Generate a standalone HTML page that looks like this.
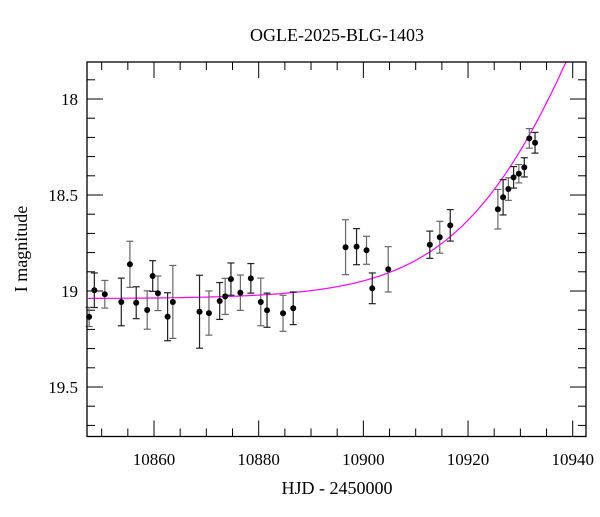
<!DOCTYPE html>
<html><head><meta charset="utf-8"><style>
html,body{margin:0;padding:0;background:#fff;}
svg text{font-family:"Liberation Serif",serif;fill:#000;}
</style></head><body>
<svg id="chart" width="600" height="512" xmlns="http://www.w3.org/2000/svg">
<text x="337" y="41" font-size="18" text-anchor="middle">OGLE-2025-BLG-1403</text>
<g id="grid"></g>
<g id="curve"></g>
<g id="points"></g>
<rect x="87" y="62" width="499" height="374.5" fill="none" stroke="#000" stroke-width="1.3"/>
<text x="337" y="494" font-size="18" text-anchor="middle">HJD - 2450000</text>
<text x="27" y="249" font-size="18" text-anchor="middle" transform="rotate(-90 27 249)">I magnitude</text>
</svg>
<script>
const days=[10847.6,10848.6,10850.6,10853.75,10855.4,10856.6,10858.7,10859.75,10860.75,10862.6,10863.6,10868.7,10870.5,10872.55,10873.6,10874.7,10876.5,10878.5,10880.4,10881.6,10884.65,10886.6,10896.6,10898.7,10900.6,10901.7,10904.75,10912.7,10914.6,10916.6,10925.7,10926.7,10927.7,10928.7,10929.7,10930.75,10931.7,10932.8];
const mags=[19.135,18.996,19.017,19.057,18.861,19.061,19.099,18.922,19.012,19.134,19.057,19.108,19.115,19.052,19.028,18.938,19.009,18.934,19.057,19.1,19.116,19.09,18.772,18.769,18.788,18.986,18.887,18.759,18.72,18.658,18.574,18.512,18.469,18.408,18.389,18.356,18.205,18.228];
const errs=[0.05,0.09,0.072,0.124,0.12,0.083,0.1,0.08,0.09,0.125,0.19,0.19,0.115,0.096,0.094,0.084,0.092,0.077,0.124,0.089,0.094,0.085,0.143,0.094,0.073,0.08,0.118,0.071,0.083,0.082,0.103,0.092,0.059,0.056,0.048,0.05,0.051,0.054];
const xMajor=[10860,10880,10900,10920,10940];
const yMajor=[18,18.5,19,19.5];
const baseMag=19.04, t0=10899.7, amp0=0.087, tau=12.23;

const NS='http://www.w3.org/2000/svg';
const X0=87,X1=586,Y0=62,Y1=436.5;
const dMin=10847.4, dMax=10942.5;
const xs=d=>154+(d-10860)*5.234;
const ys=m=>99+(m-18)*192;
function mk(tag,attrs,parent){const e=document.createElementNS(NS,tag);for(const k in attrs)e.setAttribute(k,attrs[k]);parent.appendChild(e);return e;}
const grid=document.getElementById('grid');
// x ticks
for(let d=10850;d<=10940;d+=5){
  const major=d%20===0; const len=major?16:8; const x=xs(d);
  const t1=mk('line',{x1:x,x2:x,y1:Y1,y2:Y1-len,stroke:'#000','stroke-width':1},grid);
  
  
  const t2=mk('line',{x1:x,x2:x,y1:Y0,y2:Y0+len,stroke:'#000','stroke-width':1},grid);
  
  
}
xMajor.forEach(d=>{
  const t=mk('text',{x:xs(d),y:465,'font-size':17,'text-anchor':'middle'},grid);
  t.textContent=String(d);
  
  
});
for(let i=18;i<=39;i++){
  const m=i/20*1; const mm=i*0.05; if(mm<17.8||mm>19.76)continue;
}
for(let k=179;k<=197;k++){
  const m=k/10; const y=ys(m); if(y<Y0||y>Y1)continue;
  const major=k%5===0; const len=major?16:8;
  const a=mk('line',{x1:X0,x2:X0+len,y1:y,y2:y,stroke:'#000','stroke-width':1},grid);
  
  
  const b=mk('line',{x1:X1,x2:X1-len,y1:y,y2:y,stroke:'#000','stroke-width':1},grid);
  
  
}
yMajor.forEach(m=>{
  const t=mk('text',{x:78,y:ys(m)+6,'font-size':17,'text-anchor':'end'},grid);
  t.textContent=String(m);
  
  
});
// model curve
const cg=document.getElementById('curve');
let pts=[];
for(let d=dMin;d<=dMax;d+=0.25){
  const m=baseMag-2.5*Math.log10(1+amp0*Math.exp((d-t0)/tau));
  let y=ys(m); if(y<Y0) {pts.push(xs(d).toFixed(1)+','+Y0);break;}
  pts.push(xs(d).toFixed(1)+','+y.toFixed(1));
}
const pl=mk('polyline',{points:pts.join(' '),fill:'none',stroke:'#ff00ff','stroke-width':1.2},cg);


// points
const pg=document.getElementById('points');
days.forEach((d,i)=>{
  const x=xs(d), y=ys(mags[i]), e=errs[i]*192;
  const col=i%2?'#222':'#666';
  const g=mk('g',{},pg);
  
  
  mk('line',{x1:x,x2:x,y1:y-e,y2:y+e,stroke:col,'stroke-width':1.2},g);
  mk('line',{x1:x-3.5,x2:x+3.5,y1:y-e,y2:y-e,stroke:col,'stroke-width':1.2},g);
  mk('line',{x1:x-3.5,x2:x+3.5,y1:y+e,y2:y+e,stroke:col,'stroke-width':1.2},g);
  mk('circle',{cx:x,cy:y,r:3,fill:'#000'},g);
});
</script>
</body></html>
